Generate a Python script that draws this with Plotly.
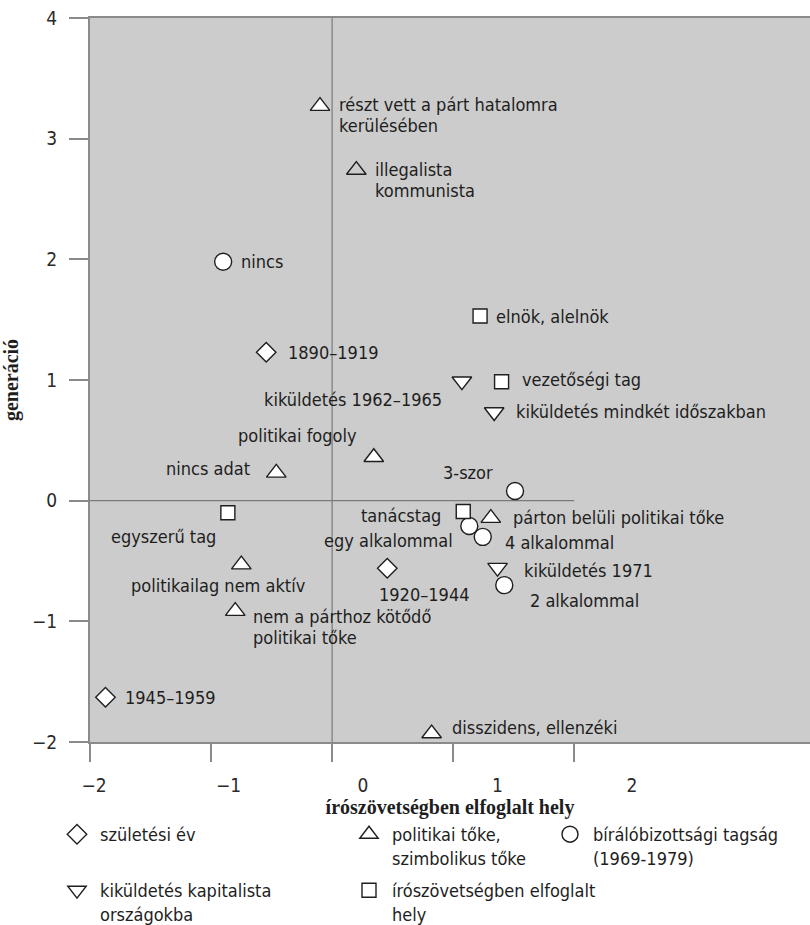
import plotly.graph_objects as go

SANS = "DejaVu Sans Condensed, Liberation Sans Narrow, Roboto, sans-serif"
SERIF = "Liberation Serif, DejaVu Serif, Times New Roman, serif"
INK = "#1e1e1e"
GRAY_LINE = "#8a8a8a"

# ---- data -------------------------------------------------------------
# születési év (diamonds)
birth_labels = ["1890–1919", "1920–1944", "1945–1959"]
birth_x = [-0.72, 0.18, -1.915]
birth_y = [1.23, -0.56, -1.63]

# politikai tőke, szimbolikus tőke (triangles)
capital_labels = [
    "részt vett a párt hatalomra<br>kerülésében",
    "illegalista<br>kommunista",
    "politikai fogoly",
    "nincs adat",
    "párton belüli politikai tőke",
    "politikailag nem aktív",
    "nem a párthoz kötődő<br>politikai tőke",
    "disszidens, ellenzéki",
]
capital_x = [-0.32, -0.05, 0.08, -0.645, 0.95, -0.905, -0.95, 0.51]
capital_y = [3.27, 2.74, 0.36, 0.23, -0.145, -0.53, -0.915, -1.93]

# bírálóbizottsági tagság 1969-1979 (circles)
jury_labels = ["nincs", "3-szor", "egy alkalommal", "4 alkalommal", "2 alkalommal"]
jury_x = [-1.04, 1.13, 0.79, 0.89, 1.05]
jury_y = [1.98, 0.08, -0.21, -0.30, -0.70]

# írószövetségben elfoglalt hely (squares)
union_labels = ["elnök, alelnök", "vezetőségi tag", "tanácstag", "egyszerű tag"]
union_x = [0.87, 1.03, 0.745, -1.005]
union_y = [1.53, 0.985, -0.09, -0.10]

# kiküldetés kapitalista országokba (down triangles)
mission_labels = ["kiküldetés 1962–1965", "kiküldetés mindkét időszakban", "kiküldetés 1971"]
mission_x = [0.735, 0.975, 1.0]
mission_y = [0.99, 0.735, -0.555]

# axes
x_tick_vals = [-2, -1, 0, 1, 2]
x_tick_text = ["−2", "−1", "0", "1", "2"]
x_mark_vals = [-2.03, -1.13, -0.23, 0.67, 1.57]
y_tick_vals = [-2, -1, 0, 1, 2, 3, 4]
y_tick_text = ["−2", "−1", "0", "1", "2", "3", "4"]
x_origin = -0.23
x_range = [-2.03, 3.323]
y_range = [-2, 4]

# ---- label placement (pixel offsets from the marker: dx, dy, anchor) ----
birth_pos = [(20, 0, "left"), (-10, 26, "left"), (18, 0, "left")]
capital_pos = [(17, 9, "left"), (17, 10, "left"), (-15, -22, "right"), (-24, -4, "right"),
               (20, -1, "left"), (-23, 21, "center"), (16, 16, "left"), (18, -6, "left")]
jury_pos = [(16, 0, "left"), (-20, -19, "right"), (-14, 14, "right"), (20, 6, "left"),
            (24, 15, "left")]
union_pos = [(14, 0, "left"), (18, -2, "left"), (-20, 4, "right"), (-10, 24, "right")]
mission_pos = [(-18, 18, "right"), (20, 0, "left"), (24, 3, "left")]

LABEL_SIZE = 18
LINE_GAP = 20.5

W, H = 810, 925
M_L, M_R, M_T, M_B = 90, 0, 18, 183


def paper_x(px):
    return (px - M_L) / (W - M_L - M_R)


def paper_y(py):
    return (H - M_B - py) / (H - M_T - M_B)


fig = go.Figure()

series = [
    ("születési év", "diamond", 15, birth_x, birth_y, birth_labels, birth_pos, "legend",
     ["white"] * len(birth_x)),
    ("politikai tőke,<br>szimbolikus tőke", "triangle-up", 17, capital_x, capital_y,
     capital_labels, capital_pos, "legend2",
     ["white", "rgba(0,0,0,0)"] + ["white"] * (len(capital_x) - 2)),
    ("bírálóbizottsági tagság<br>(1969-1979)", "circle", 17, jury_x, jury_y, jury_labels,
     jury_pos, "legend3", ["white"] * len(jury_x)),
    ("kiküldetés kapitalista<br>országokba", "triangle-down", 17, mission_x, mission_y,
     mission_labels, mission_pos, "legend4", ["white"] * len(mission_x)),
    ("írószövetségben elfoglalt<br>hely", "square", 14, union_x, union_y, union_labels,
     union_pos, "legend5", ["white"] * len(union_x)),
]

annotations = []
for name, symbol, size, xs, ys, labels, pos, leg, fills in series:
    fig.add_trace(go.Scatter(
        x=xs, y=ys, mode="markers", name=name, legend=leg,
        marker=dict(symbol=symbol, size=size, color=fills,
                    line=dict(color=INK, width=1.4)),
        hoverinfo="text", text=[l.replace("<br>", " ") for l in labels],
    ))
    for x, y, lab, (dx, dy, anchor) in zip(xs, ys, labels, pos):
        lines = lab.split("<br>")
        n = len(lines)
        for i, line in enumerate(lines):
            off = dy + (i - (n - 1) / 2) * LINE_GAP
            annotations.append(dict(
                x=x, y=y, xref="x", yref="y", text=line, showarrow=False,
                xanchor=anchor, yanchor="middle", xshift=dx, yshift=-off,
                font=dict(family=SANS, size=LABEL_SIZE, color=INK),
            ))

# axis carrying the tick marks only
fig.add_trace(go.Scatter(x=[None], y=[None], xaxis="x2", showlegend=False,
                         hoverinfo="skip"))

shapes = [
    dict(type="line", xref="x", yref="y", x0=x_origin, x1=x_origin, y0=y_range[0],
         y1=y_range[1], line=dict(color="#7a7a7a", width=1.2), layer="below"),
    dict(type="line", xref="x", yref="y", x0=x_range[0], x1=x_mark_vals[-1], y0=0, y1=0,
         line=dict(color="#7a7a7a", width=1.2), layer="below"),
]

legend_common = dict(
    font=dict(family=SANS, size=LABEL_SIZE, color=INK), bgcolor="rgba(0,0,0,0)",
    borderwidth=0, xanchor="left", yanchor="top", xref="paper", yref="paper",
    valign="top", itemclick=False, itemdoubleclick=False, itemwidth=36,
)
legend_spots = {
    "legend": (76, 822),
    "legend2": (368, 822),
    "legend3": (569, 822),
    "legend4": (76, 878),
    "legend5": (368, 878),
}
legend_layout = {}
for key, (sx, sy) in legend_spots.items():
    legend_layout[key] = dict(legend_common, x=paper_x(sx - 22), y=paper_y(sy - 6))

tick_font = dict(family=SANS, size=19, color="#2a2a2a")

fig.update_layout(
    width=W, height=H,
    margin=dict(l=M_L, r=M_R, t=M_T, b=M_B, autoexpand=False),
    paper_bgcolor="white", plot_bgcolor="#cccccc",
    showlegend=True,
    annotations=annotations, shapes=shapes,
    xaxis=dict(
        range=x_range, tickvals=x_tick_vals, ticktext=x_tick_text,
        ticks="outside", ticklen=19, tickcolor="rgba(0,0,0,0)", ticklabelstandoff=6,
        tickfont=tick_font, showgrid=False, zeroline=False,
        showline=True, linecolor=GRAY_LINE, linewidth=2, mirror=True,
        title=dict(text="<b>írószövetségben elfoglalt hely</b>", standoff=5,
                   font=dict(family=SERIF, size=20, color=INK)),
        fixedrange=True,
    ),
    xaxis2=dict(
        range=x_range, overlaying="x", anchor="y", side="bottom",
        tickvals=x_mark_vals, ticks="outside", ticklen=19, tickwidth=1.5,
        tickcolor=GRAY_LINE, showticklabels=False, showgrid=False, zeroline=False,
        showline=False, fixedrange=True,
    ),
    yaxis=dict(
        range=y_range, tickvals=y_tick_vals, ticktext=y_tick_text,
        ticks="outside", ticklen=19, tickwidth=1.5, tickcolor=GRAY_LINE,
        ticklabelstandoff=8, tickfont=tick_font, showgrid=False, zeroline=False,
        showline=True, linecolor=GRAY_LINE, linewidth=2,
        title=dict(text="<b>generáció</b>", standoff=9,
                   font=dict(family=SERIF, size=20, color=INK)),
        fixedrange=True,
    ),
    **legend_layout,
)

fig.write_html("out.html")
